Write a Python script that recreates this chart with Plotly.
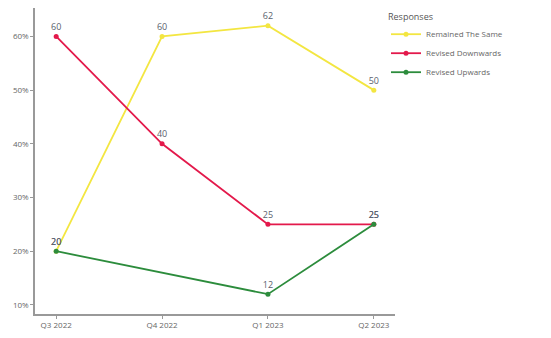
import plotly.graph_objects as go

quarters = ["Q3 2022", "Q4 2022", "Q1 2023", "Q2 2023"]
remained_same = [20, 60, 62, 50]
revised_down = [60, 40, 25, 25]
revised_up = [20, None, 12, 25]

series = [
    ("Remained The Same", remained_same, "#F3E641"),
    ("Revised Downwards", revised_down, "#E3194B"),
    ("Revised Upwards", revised_up, "#2C8C3C"),
]

fig = go.Figure()
for name, vals, color in series:
    fig.add_trace(go.Scatter(
        x=list(range(len(quarters))), y=vals, name=name,
        mode="lines+markers+text",
        line=dict(color=color, width=1.8),
        marker=dict(color=color, size=5),
        text=[("" if v is None else str(v)) for v in vals],
        textposition="top center",
        textfont=dict(color="#5a5f6e", size=9),
        connectgaps=True,
    ))

fig.update_layout(
    width=551, height=338,
    margin=dict(l=35, r=156, t=8, b=20),
    paper_bgcolor="white", plot_bgcolor="white",
    font=dict(family="Open Sans", size=8, color="#666666"),
    legend=dict(
        title=dict(text="Responses", font=dict(size=9, color="#555555")),
        x=0.975, xanchor="left", y=1.0, yanchor="top",
        font=dict(size=8, color="#666666"),
        tracegroupgap=0, itemwidth=30,
    ),
    xaxis=dict(
        range=[-0.2, 3.2], tickmode="array",
        tickvals=list(range(len(quarters))), ticktext=quarters,
        showline=True, linecolor="#999999", linewidth=1.5,
        ticks="outside", ticklen=3, tickcolor="#999999",
        showgrid=False, zeroline=False,
    ),
    yaxis=dict(
        range=[8.3, 65.3], tickvals=[10, 20, 30, 40, 50, 60],
        ticktext=["10%", "20%", "30%", "40%", "50%", "60%"],
        showline=True, linecolor="#999999", linewidth=1.5,
        ticks="outside", ticklen=3, tickcolor="#999999",
        showgrid=False, zeroline=False,
    ),
)

fig.write_html("out.html")
